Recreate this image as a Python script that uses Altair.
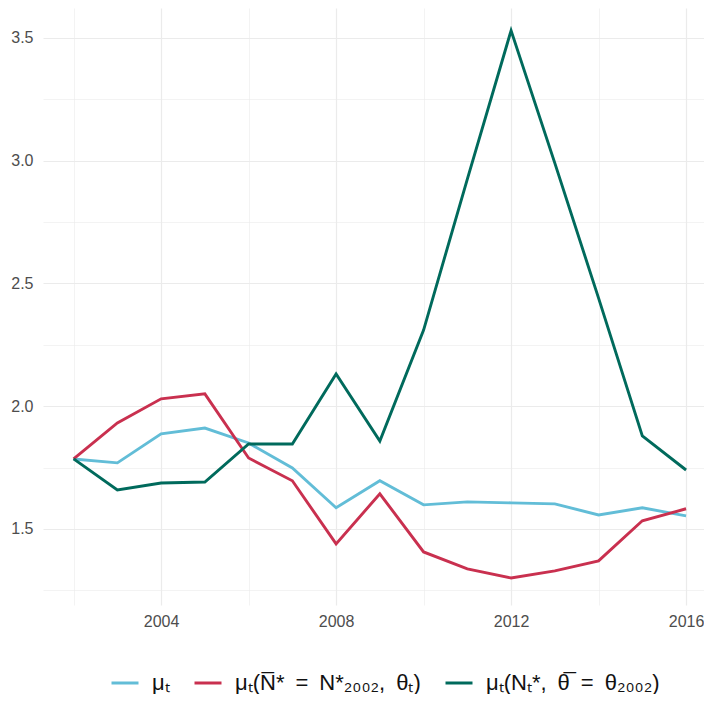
import altair as alt
import pandas as pd

years = list(range(2002, 2017))
mu_t = [1.785, 1.769, 1.887, 1.911, 1.850, 1.748, 1.586, 1.696, 1.598, 1.610, 1.606, 1.602, 1.557, 1.586, 1.553]
mu_N2002 = [1.785, 1.932, 2.030, 2.050, 1.789, 1.696, 1.439, 1.643, 1.406, 1.337, 1.300, 1.329, 1.370, 1.533, 1.582]
mu_theta2002 = [1.785, 1.659, 1.687, 1.691, 1.846, 1.846, 2.131, 1.858, 2.310, 2.925, 3.530, 2.990, 2.440, 1.879, 1.740]

series_names = ["μₜ", "μₜ(N̅*\u2002=\u2002N*₂₀₀₂,\u2002θₜ)", "μₜ(Nₜ*,\u2002θ̅\u2002=\u2002θ₂₀₀₂)"]
series_colors = ["#62BDD7", "#C9304F", "#006A5C"]

rows = []
for name, vals in zip(series_names, [mu_t, mu_N2002, mu_theta2002]):
    for y, v in zip(years, vals):
        rows.append({"year": y, "value": v, "series": name})
df = pd.DataFrame(rows)

x_vals = list(range(2002, 2017, 2))
y_vals = [1.25 + 0.25 * i for i in range(10)]

chart = alt.Chart(df).mark_line(strokeWidth=2.9).encode(
    x=alt.X("year:Q", title=None,
            scale=alt.Scale(domain=[2001.3, 2016.41], nice=False, zero=False),
            axis=alt.Axis(values=x_vals, labelExpr="datum.value % 4 == 0 ? datum.value : ''",
                          format="d", domain=False, ticks=False, labelPadding=8,
                          labelColor="#4D4D4D", labelFontSize=16, labelFont="Liberation Sans",
                          gridColor="#EBEBEB",
                          gridWidth=alt.condition("datum.value % 4 == 0", alt.value(1.2), alt.value(0.6)))),
    y=alt.Y("value:Q", title=None,
            scale=alt.Scale(domain=[1.19, 3.622], nice=False, zero=False),
            axis=alt.Axis(values=y_vals, labelExpr="datum.value % 0.5 == 0 ? format(datum.value, '.1f') : ''",
                          domain=False, ticks=False, labelPadding=10,
                          labelColor="#4D4D4D", labelFontSize=16, labelFont="Liberation Sans",
                          gridColor="#EBEBEB",
                          gridWidth=alt.condition("datum.value % 0.5 == 0", alt.value(1.2), alt.value(0.6)))),
    color=alt.Color("series:N", title=None,
                    scale=alt.Scale(domain=series_names, range=series_colors),
                    legend=alt.Legend(orient="none", legendX=67, legendY=660, direction="horizontal",
                                      symbolType="stroke", symbolStrokeWidth=3, symbolSize=729,
                                      labelFontSize=22, labelFont="Liberation Sans", labelColor="#111111",
                                      labelOffset=12, columnPadding=18, labelLimit=400)),
    order="year:Q",
).properties(
    width=661, height=597,
    padding={"left": 35, "top": 0, "right": 0, "bottom": 89},
    autosize=alt.AutoSizeParams(type="none"),
).configure_view(stroke=None)

chart.save("out.html", embed_options={"renderer": "svg", "actions": False})
